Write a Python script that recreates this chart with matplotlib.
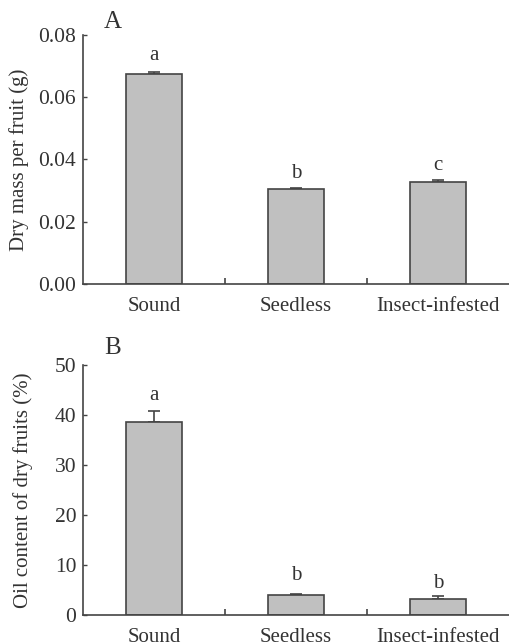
import matplotlib
matplotlib.use("Agg")
import matplotlib.pyplot as plt
import numpy as np

plt.rcParams['font.family'] = ['Liberation Serif', 'DejaVu Serif']

categories = ["Sound", "Seedless", "Insect-infested"]

mass = [0.0675, 0.0305, 0.0329]
mass_err = [0.0007, 0.0004, 0.0004]
mass_letters = ["a", "b", "c"]
mass_letter_y = [0.0732, 0.0354, 0.0380]

oil = [38.7, 3.93, 3.2]
oil_err = [2.1, 0.33, 0.53]
oil_letters = ["a", "b", "b"]
oil_letter_y = [44.0, 8.0, 6.3]

txt = '#333333'
edge = '#444444'
fill = '#c0c0c0'

fig = plt.figure(figsize=(5.1, 6.44), dpi=100)
axA = fig.add_axes([0.163, 0.559, 0.835, 0.387])
axB = fig.add_axes([0.163, 0.045, 0.835, 0.388])

x = np.arange(len(categories))


def draw(ax, vals, errs, letters, ly, ylim, yticks, yfmt, ylabel, lx, panel, py):
    ax.bar(x, vals, width=0.4, color=fill, edgecolor=edge, linewidth=1.2, zorder=2)
    ax.errorbar(x, vals, yerr=[np.zeros(len(vals)), errs], fmt='none',
                ecolor=edge, elinewidth=1.2, capsize=4, capthick=1.2, zorder=1)
    for xi, t, y in zip(x, letters, ly):
        ax.text(xi, y, t, ha='center', va='center', fontsize=15, color=txt)
    ax.set_xlim(-0.5, 2.5)
    ax.set_ylim(*ylim)
    ax.set_yticks(yticks)
    ax.set_yticklabels([yfmt.format(v) for v in yticks], fontsize=15.5, color=txt)
    ax.set_xticks(x)
    ax.set_xticklabels(categories, fontsize=15, color=txt)
    ax.tick_params(axis='x', length=0, pad=9)
    ax.set_xticks([0.5, 1.5], minor=True)
    ax.tick_params(axis='x', which='minor', direction='in', length=4, width=1.2, color=edge)
    ax.tick_params(axis='y', direction='in', length=3, width=1.0, color=edge, pad=5)
    ax.spines['top'].set_visible(False)
    ax.spines['right'].set_visible(False)
    for s in ['left', 'bottom']:
        ax.spines[s].set_color(edge)
        ax.spines[s].set_linewidth(1.2)
    ax.set_ylabel(ylabel, fontsize=15, color=txt)
    ax.yaxis.set_label_coords(lx, 0.5)
    ax.text(0.07, py, panel, transform=ax.transAxes, fontsize=18, color=txt,
            ha='center', va='center')


draw(axA, mass, mass_err, mass_letters, mass_letter_y, (0, 0.08),
     [0, 0.02, 0.04, 0.06, 0.08], "{:.2f}", "Dry mass per fruit (g)", -0.128, "A", 1.05)
draw(axB, oil, oil_err, oil_letters, oil_letter_y, (0, 50),
     [0, 10, 20, 30, 40, 50], "{:.0f}", "Oil content of dry fruits (%)", -0.118, "B", 1.07)

fig.savefig("out.png", dpi=100)
